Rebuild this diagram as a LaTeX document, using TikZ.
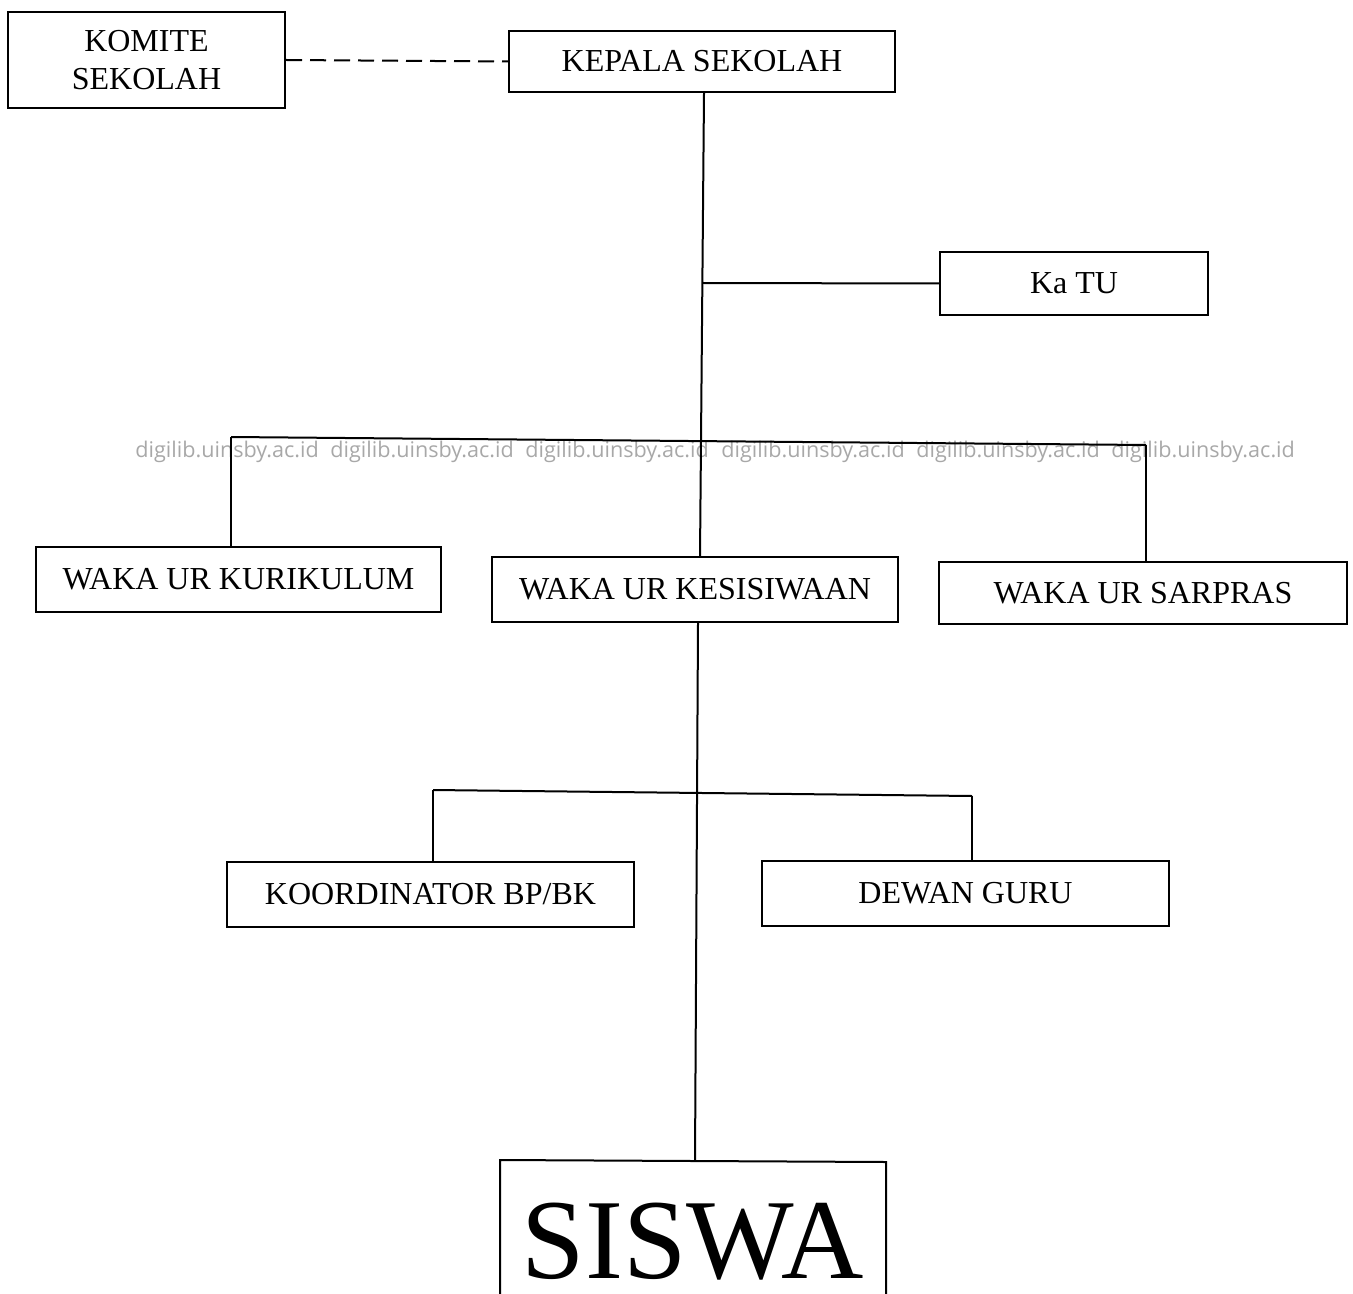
\documentclass[tikz,border=0pt]{standalone}
\usepackage{fontspec}
\setmainfont{Liberation Serif}
\newfontfamily\wmfont{Open Sans}
\definecolor{wmgray}{RGB}{168,168,168}
\begin{document}
\begin{tikzpicture}[x=0.5pt,y=-0.5pt,
  box/.style={draw,line width=1pt,rectangle,inner sep=0pt,align=center,font=\fontsize{16}{19.2}\selectfont},
  link/.style={line width=1pt},
  wm/.style={text=wmgray,font=\wmfont\fontsize{10.8}{12}\selectfont,inner sep=0pt,anchor=base west}]
\useasboundingbox (0,0) rectangle (1353,1294);
\clip (0,0) rectangle (1353,1294);
% watermark
\foreach \i/\xx in {1/135,2/330,3/525,4/721,5/916,6/1111}{
  \node[wm] (wm\i) at (\xx,457) {digilib.uinsby.ac.id};
}
% boxes
\node[box,minimum width=277pt*0.5,minimum height=96pt*0.5] (komite) at (146.5,60) {KOMITE\\SEKOLAH};
\node[box,minimum width=386pt*0.5,minimum height=61pt*0.5] (kepala) at (702,61.5) {KEPALA SEKOLAH};
\node[box,minimum width=268pt*0.5,minimum height=63pt*0.5] (katu) at (1074,283.5) {Ka TU};
\node[box,minimum width=405pt*0.5,minimum height=65pt*0.5] (kur) at (238.5,579.5) {WAKA UR KURIKULUM};
\node[box,minimum width=406pt*0.5,minimum height=65pt*0.5] (kes) at (695,589.5) {WAKA UR KESISIWAAN};
\node[box,minimum width=408pt*0.5,minimum height=62pt*0.5] (sar) at (1143,593) {WAKA UR SARPRAS};
\node[box,minimum width=407pt*0.5,minimum height=65pt*0.5] (bpbk) at (430.5,894.5) {KOORDINATOR BP/BK};
\node[box,minimum width=407pt*0.5,minimum height=65pt*0.5] (dewan) at (965.5,893.5) {DEWAN GURU};
% SISWA box (runs off the bottom edge) and its text
\coordinate (sisTL) at (500,1160);
\coordinate (sisTR) at (886,1162);
\coordinate (sisTop) at (695,1161);
\draw[line width=1pt] (500,1300) -- (sisTL) -- (sisTR) -- (886,1300);
\node[inner sep=0pt,font=\fontsize{57}{60}\selectfont,anchor=base] (siswa) at (693,1278) {SISWA};
% junction coordinates
\coordinate (ktop) at (704,0);
\coordinate (kbot) at (700,0);
\coordinate (j1) at (703,283);
\coordinate (jl) at (231,437);
\coordinate (jr) at (1146,445);
\coordinate (stop) at (698,0);
\coordinate (jl2) at (433,790);
\coordinate (jr2) at (972,796);
% connectors
\draw[link,dashed,dash pattern=on 8pt off 4pt] (komite.east) -- (kepala.west);
\draw[link] (kepala.south -| ktop) -- (kes.north -| kbot);
\draw[link] (j1) -- (katu.west);
\draw[link] (jl) -- (jr);
\draw[link] (jl) -- (jl |- kur.north);
\draw[link] (jr) -- (jr |- sar.north);
\draw[link] (kes.south -| stop) -- (sisTop);
\draw[link] (jl2) -- (jr2);
\draw[link] (jl2) -- (jl2 |- bpbk.north);
\draw[link] (jr2) -- (jr2 |- dewan.north);
\end{tikzpicture}
\end{document}
